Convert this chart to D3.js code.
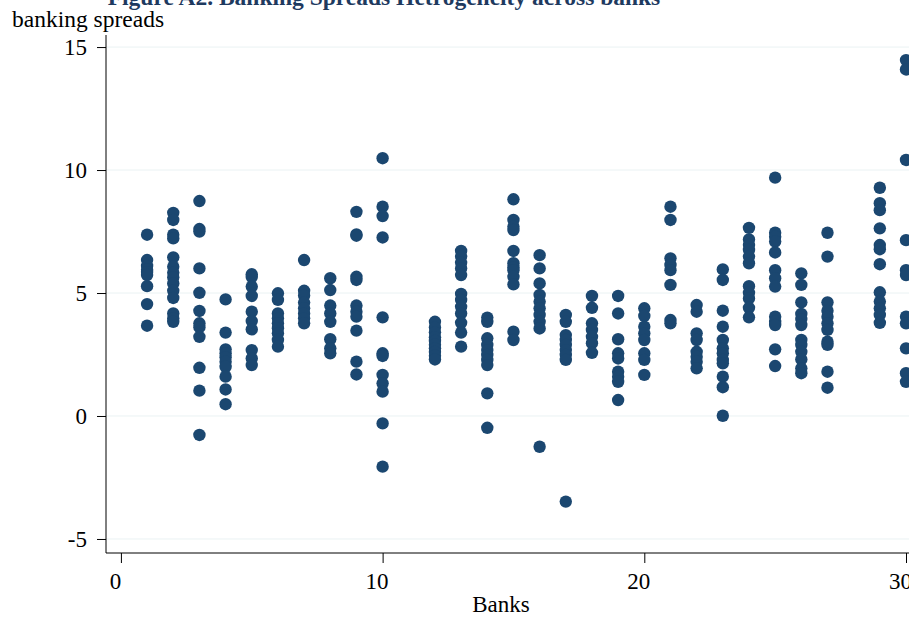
<!DOCTYPE html>
<html>
<head>
<meta charset="utf-8">
<script src="https://cdn.jsdelivr.net/npm/d3@7"></script>
<style>
  html, body { margin: 0; padding: 0; background: #fff; }
  svg { display: block; }
  text { font-family: "Liberation Serif", "Times New Roman", serif; }
</style>
</head>
<body>
<script>
  // Banks shown on the x axis (11 and 28 have no observations)
  const bankIds = [1, 2, 3, 4, 5, 6, 7, 8, 9, 10, 12, 13, 14, 15, 16, 17, 18, 19, 20, 21, 22, 23, 24, 25, 26, 27, 29, 30];

  // Banking spreads per bank, same order as bankIds
  const spreads = [
    [7.37, 6.34, 6.1, 5.95, 5.85, 5.73, 5.28, 4.55, 3.67],
    [8.26, 7.97, 7.37, 7.22, 6.45, 6.07, 5.83, 5.64, 5.39, 5.09, 4.8, 4.17, 3.97, 3.83],
    [8.74, 7.6, 7.5, 6.0, 5.01, 4.27, 3.77, 3.61, 3.22, 1.96, 1.03, -0.77],
    [4.74, 3.39, 2.71, 2.55, 2.39, 2.21, 2.0, 1.6, 1.08, 0.48],
    [5.76, 5.65, 5.26, 4.88, 4.24, 3.86, 3.52, 2.68, 2.34, 2.07],
    [4.99, 4.72, 4.17, 3.97, 3.77, 3.57, 3.36, 3.09, 2.82],
    [6.34, 5.09, 4.9, 4.61, 4.38, 4.17, 3.97, 3.77],
    [5.6, 5.12, 4.49, 4.17, 3.83, 3.12, 2.75, 2.55],
    [8.3, 7.38, 7.33, 5.66, 5.53, 4.49, 4.24, 4.04, 3.47, 2.21, 1.69],
    [10.48, 8.51, 8.13, 7.26, 4.01, 2.55, 2.44, 1.67, 1.33, 0.99, -0.3, -2.06],
    [3.83, 3.6, 3.4, 3.2, 3.05, 2.9, 2.75, 2.6, 2.45, 2.3],
    [6.71, 6.48, 6.23, 6.0, 5.73, 4.96, 4.72, 4.44, 4.17, 3.79, 3.39, 2.82],
    [4.0, 3.83, 3.16, 2.89, 2.68, 2.48, 2.28, 2.07, 0.92, -0.48],
    [8.81, 7.97, 7.7, 7.56, 6.71, 6.21, 6.05, 5.93, 5.66, 5.35, 3.43, 3.09],
    [6.54, 6.0, 5.39, 4.92, 4.65, 4.38, 4.11, 3.83, 3.56, -1.25],
    [4.11, 3.83, 3.29, 3.09, 2.89, 2.68, 2.48, 2.28, -3.48],
    [4.88, 4.4, 3.77, 3.5, 3.22, 2.96, 2.57],
    [4.88, 4.17, 3.12, 2.55, 2.34, 1.8, 1.6, 1.39, 0.65],
    [4.38, 4.07, 3.63, 3.36, 3.09, 2.55, 2.28, 1.67],
    [8.51, 7.97, 6.41, 6.14, 5.93, 5.33, 3.9, 3.77],
    [4.51, 4.24, 3.36, 3.09, 2.61, 2.41, 2.21, 1.94],
    [5.96, 5.53, 4.28, 3.63, 3.09, 2.75, 2.55, 2.28, 2.14, 1.6, 1.17, 0.01],
    [7.65, 7.18, 6.95, 6.75, 6.48, 6.21, 5.28, 5.01, 4.78, 4.4, 4.01],
    [9.69, 7.45, 7.29, 7.09, 6.65, 5.93, 5.6, 5.26, 4.04, 3.83, 3.7, 2.71, 2.03],
    [5.8, 5.33, 4.62, 4.15, 3.94, 3.7, 3.09, 2.89, 2.61, 2.3, 1.94, 1.74],
    [7.45, 6.48, 4.62, 4.28, 4.04, 3.77, 3.5, 3.02, 2.89, 1.8, 1.15],
    [9.28, 8.65, 8.37, 7.63, 6.95, 6.78, 6.17, 5.03, 4.65, 4.38, 4.11, 3.79],
    [14.47, 14.09, 10.41, 7.15, 5.93, 5.73, 4.04, 3.77, 2.75, 1.74, 1.39]
  ];

  const xTicks = [0, 10, 20, 30];
  const yTicks = [-5, 0, 5, 10, 15];

  const width = 909;
  const height = 618;
  const dotColor = '#1b4770';

  // flatten into points
  const points = [];
  bankIds.forEach((b, i) => {
    spreads[i].forEach(v => points.push({ bank: b, spread: v }));
  });

  const x = d3.scaleLinear().domain([-0.57, 30.6]).range([106, 906 + 0.6 * 26.17]);
  const y = d3.scaleLinear().domain([-5.57, 15.49]).range([553, 35]);

  const svg = d3.select('body')
    .append('svg')
    .attr('width', width)
    .attr('height', height);

  // Title (cut off at the top, as in the source figure)
  svg.append('text')
    .attr('x', 384)
    .attr('y', 5)
    .attr('text-anchor', 'middle')
    .style('font-size', '23.5px')
    .style('font-weight', 'bold')
    .style('fill', '#1e3a5f')
    .text('Figure A2. Banking Spreads Hetrogeneity across banks');

  // Gridlines
  svg.append('g')
    .selectAll('line')
    .data(yTicks)
    .join('line')
    .attr('x1', 106)
    .attr('x2', width)
    .attr('y1', d => y(d))
    .attr('y2', d => y(d))
    .attr('stroke', '#eaf2f3')
    .attr('stroke-width', 1);

  // Y axis
  const yAxis = svg.append('g')
    .attr('transform', 'translate(106,0)')
    .call(d3.axisLeft(y).tickValues(yTicks).tickSize(9).tickPadding(10).tickFormat(d => String(d)));
  yAxis.select('.domain').attr('d', `M0,${y.range()[0]}V${y.range()[1]}`).attr('stroke', '#000');
  yAxis.selectAll('text')
    .style('font-size', '23px')
    .style('font-family', '"Liberation Serif", serif')
    .attr('fill', '#000');

  // X axis
  const xAxis = svg.append('g')
    .attr('transform', 'translate(0,553)')
    .call(d3.axisBottom(x).tickValues(xTicks).tickSize(10).tickPadding(10).tickFormat(d => String(d)));
  xAxis.select('.domain').attr('d', `M${x.range()[0]},0H${x.range()[1]}`).attr('stroke', '#000');
  xAxis.selectAll('text')
    .attr('dx', -6)
    .style('font-size', '23px')
    .style('font-family', '"Liberation Serif", serif')
    .attr('fill', '#000');

  // Axis titles
  svg.append('text')
    .attr('x', 12)
    .attr('y', 27)
    .style('font-size', '23.5px')
    .text('banking spreads');

  svg.append('text')
    .attr('x', 501)
    .attr('y', 612)
    .attr('text-anchor', 'middle')
    .style('font-size', '23px')
    .text('Banks');

  // Points
  svg.append('g')
    .selectAll('circle')
    .data(points)
    .join('circle')
    .attr('cx', d => x(d.bank))
    .attr('cy', d => y(d.spread))
    .attr('r', 6.2)
    .attr('fill', dotColor);
</script>
</body>
</html>
